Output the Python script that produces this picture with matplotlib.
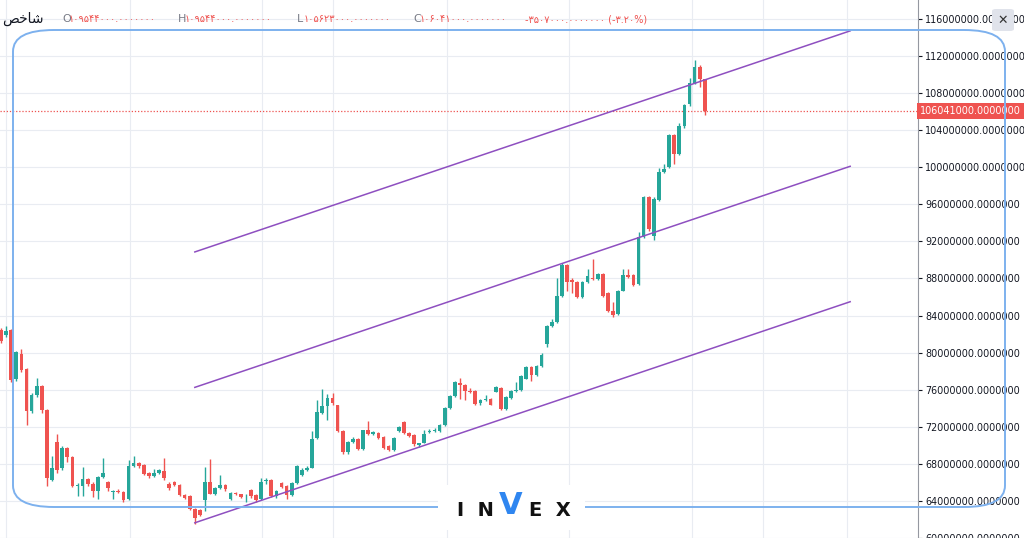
import matplotlib.pyplot as plt
from matplotlib.patches import FancyBboxPatch, Rectangle
from matplotlib.ticker import FuncFormatter

# OHLC per daily candle, in millions
opens = [82.4, 81.9, 82.4, 77.1, 79.9, 78.2, 73.7, 75.4, 76.4, 73.8,
         66.3, 70.4, 67.5, 69.7, 68.7, 65.6, 65.6, 66.4, 65.8, 65.1,
         66.6, 66.0, 65.0, 65.1, 65.0, 64.2, 67.8, 68.1, 67.9, 67.0,
         66.7, 67.0, 67.2, 65.8, 66.0, 65.7, 64.6, 64.5, 63.1, 63.0,
         64.1, 66.0, 64.8, 65.4, 65.7, 64.2, 64.9, 64.7, 64.5, 65.2,
         64.6, 64.2, 66.1, 66.3, 64.5, 65.9, 65.6, 64.6, 65.9, 66.8,
         67.3, 67.6, 70.8, 73.5, 74.2, 75.1, 74.3, 71.5, 69.3, 70.4,
         70.7, 69.6, 71.7, 71.2, 71.3, 70.9, 69.9, 69.5, 71.5, 72.5,
         71.3, 71.1, 70.0, 70.3, 71.4, 71.5, 71.5, 72.2, 74.0, 75.3,
         76.7, 76.5, 75.9, 75.9, 74.6, 74.9, 75.0, 75.8, 76.2, 73.9,
         75.1, 75.9, 76.0, 77.2, 78.5, 77.6, 78.6, 80.9, 82.9, 83.3,
         86.1, 89.5, 87.8, 87.6, 86.0, 87.6, 88.0, 87.9, 88.5, 86.4,
         84.5, 84.2, 86.7, 88.4, 88.4, 87.4, 92.5, 96.8, 92.6, 96.5,
         99.5, 100.0, 103.5, 101.4, 104.4, 106.8, 109.1, 110.8, 109.544]
closes = [81.2, 82.3, 77.0, 80.1, 78.1, 73.7, 75.4, 76.4, 73.8, 66.5,
          67.5, 67.3, 69.7, 68.7, 65.6, 65.7, 66.4, 65.8, 65.1, 66.6,
          67.0, 65.4, 65.1, 65.0, 64.1, 67.8, 68.1, 67.8, 66.9, 66.7,
          67.0, 67.3, 66.5, 65.4, 65.7, 64.6, 64.3, 63.1, 62.2, 62.5,
          66.0, 64.8, 65.4, 65.7, 65.3, 64.9, 64.7, 64.4, 64.55, 64.5,
          64.1, 66.0, 66.3, 64.5, 65.1, 65.5, 64.6, 65.9, 67.8, 67.3,
          67.6, 70.7, 73.6, 74.2, 75.1, 74.6, 71.5, 69.3, 70.4, 70.7,
          69.6, 71.6, 71.2, 71.4, 70.8, 69.7, 69.5, 70.8, 72.0, 71.3,
          71.0, 70.1, 70.2, 71.2, 71.5, 71.6, 72.2, 74.0, 75.3, 76.8,
          76.5, 75.9, 75.8, 74.5, 74.9, 75.0, 74.4, 76.3, 73.9, 75.2,
          75.9, 76.0, 77.5, 78.5, 77.6, 78.6, 79.7, 82.9, 83.3, 86.1,
          89.5, 87.6, 87.6, 86.0, 87.6, 88.3, 87.9, 88.5, 86.1, 84.5,
          84.1, 86.7, 88.4, 88.2, 87.3, 92.5, 96.8, 93.3, 96.6, 99.5,
          99.8, 103.5, 101.4, 104.5, 106.7, 109.1, 110.8, 109.5, 106.041]
highs = [82.7, 82.9, 82.6, 80.2, 80.4, 78.3, 75.6, 77.3, 76.5, 73.9,
         68.9, 71.2, 69.9, 69.8, 68.8, 65.9, 67.7, 66.5, 66.0, 66.7,
         68.6, 66.1, 65.2, 65.3, 65.1, 68.4, 68.9, 68.2, 68.0, 67.1,
         67.4, 67.4, 68.6, 66.0, 66.1, 65.8, 64.7, 64.6, 63.2, 63.1,
         67.7, 68.5, 65.5, 66.8, 65.8, 65.0, 65.0, 64.8, 64.7, 65.3,
         64.7, 66.5, 66.5, 66.4, 65.2, 66.0, 65.7, 66.0, 67.9, 67.6,
         67.8, 71.5, 74.9, 76.1, 75.5, 75.6, 74.4, 71.6, 70.5, 70.9,
         70.8, 71.7, 72.6, 71.5, 71.4, 71.0, 70.0, 70.9, 72.1, 72.6,
         71.4, 71.2, 70.3, 71.6, 71.8, 71.9, 72.3, 74.1, 75.4, 76.9,
         77.3, 76.6, 76.2, 76.0, 75.0, 75.4, 75.1, 76.4, 76.3, 75.3,
         76.0, 76.8, 77.6, 78.6, 78.6, 78.7, 80.0, 83.0, 83.6, 88.0,
         89.7, 89.6, 88.0, 87.7, 87.7, 89.0, 90.1, 88.6, 88.6, 86.5,
         85.5, 86.8, 89.0, 89.0, 88.5, 93.0, 96.9, 96.9, 96.8, 99.9,
         100.3, 103.6, 103.6, 104.8, 106.8, 109.6, 111.6, 111.0, 109.544]
lows = [81.0, 81.7, 76.8, 76.9, 77.9, 72.2, 73.5, 75.2, 73.5, 65.6,
        66.1, 67.0, 67.3, 68.2, 65.5, 64.5, 64.5, 65.6, 64.4, 64.2,
        66.5, 65.1, 64.2, 64.9, 63.9, 64.1, 67.7, 67.6, 66.8, 66.5,
        66.6, 66.9, 66.3, 65.2, 65.6, 64.5, 64.2, 63.0, 61.5, 62.4,
        62.9, 64.7, 64.6, 65.3, 65.1, 64.1, 64.6, 64.3, 63.9, 64.3,
        63.9, 64.1, 65.8, 64.4, 64.3, 65.4, 64.2, 64.5, 65.8, 66.7,
        67.2, 67.5, 70.7, 73.4, 72.7, 74.3, 71.4, 69.1, 69.1, 70.3,
        69.5, 69.5, 71.1, 71.1, 70.7, 69.6, 69.4, 69.4, 71.4, 71.2,
        70.9, 69.9, 69.8, 70.2, 71.3, 71.4, 71.4, 72.1, 73.9, 75.2,
        75.0, 74.9, 75.6, 74.4, 74.3, 74.8, 74.3, 75.7, 73.8, 73.8,
        75.0, 75.8, 75.9, 77.1, 76.9, 77.5, 78.5, 80.6, 82.8, 83.2,
        86.0, 86.6, 86.4, 85.9, 85.9, 87.5, 87.8, 87.8, 86.0, 84.4,
        83.8, 84.1, 86.6, 88.1, 87.2, 87.3, 92.4, 93.1, 92.2, 96.4,
        99.4, 99.9, 100.3, 101.3, 104.2, 106.6, 109.0, 108.7, 105.623]

# regression channel: (start index, end index) and prices at both ends
channel_x = [38.0, 166.5]
channel_upper = [90.86, 114.71]
channel_middle = [76.25, 100.10]
channel_lower = [61.64, 85.49]

last_price = 106.041
price_ticks = list(range(60, 120, 4))
month_lines = [1.0, 25.3, 51.2, 65.1, 87.5, 111.4, 135.5, 149.4, 165.9]

GREEN = "#26a69a"
RED = "#ef5350"
PURPLE = "#8e4fc0"
FRAME = "#7db1ee"

fig = plt.figure(figsize=(10.24, 5.38), dpi=100)
ax = fig.add_axes([0, 0, 918 / 1024, 1])

for i, (o, h, l, c) in enumerate(zip(opens, highs, lows, closes)):
    col = GREEN if c >= o else RED
    ax.vlines(i, l, h, color=col, linewidth=1, zorder=3)
    ax.add_patch(Rectangle((i - 0.36, min(o, c)), 0.72, max(abs(c - o), 0.08),
                           color=col, zorder=4, linewidth=0))

for ys in (channel_upper, channel_middle, channel_lower):
    ax.plot(channel_x, ys, color=PURPLE, linewidth=1.1, zorder=5)

ax.axhline(last_price, color=RED, linestyle=(0, (1, 1.5)), linewidth=0.9, zorder=2)

ax.set_xlim(-0.2, 179.8)
ax.set_ylim(60.24, 118.04)
ax.set_yticks(price_ticks)
ax.set_xticks(month_lines)
ax.set_xticklabels([])
ax.tick_params(axis="x", length=0)
ax.yaxis.tick_right()
ax.yaxis.set_major_formatter(FuncFormatter(lambda v, _: f"{v * 1e6:.7f}"))
ax.tick_params(axis="y", labelsize=6.9, colors="#131722", length=3, pad=2)
ax.grid(True, color="#e9ecf2", linewidth=0.8)
for side in ("left", "top", "bottom"):
    ax.spines[side].set_visible(False)
ax.spines["right"].set_color("#9598a1")

ax.annotate(f"{last_price * 1e6:.7f}", xy=(1.0, last_price),
            xycoords=("axes fraction", "data"), xytext=(1.5, 0),
            textcoords="offset points", va="center", ha="left",
            fontsize=6.9, color="white",
            bbox=dict(boxstyle="square,pad=0.3", fc=RED, ec="none"))

# overlay frame and logo
fig.patches.append(FancyBboxPatch((13 / 1024, 1 - 507 / 538), 992 / 1024, 477 / 538,
                                  boxstyle="round,pad=0,rounding_size=0.04",
                                  transform=fig.transFigure, fill=False,
                                  ec=FRAME, linewidth=1.4, zorder=10))
fig.patches.append(Rectangle((438 / 1024, 1 - 530 / 538), 147 / 1024, 45 / 538,
                             transform=fig.transFigure, fc="white", ec="none", zorder=11))
fig.text(475 / 1024, 1 - 511 / 538, "I  N", fontsize=14, fontweight="bold",
         ha="center", va="center", color="#111111", zorder=12)
fig.text(511 / 1024, 1 - 505 / 538, "V", fontsize=22, fontweight="bold",
         ha="center", va="center", color="#2f86f0", zorder=12)
fig.text(550 / 1024, 1 - 511 / 538, "E  X", fontsize=14, fontweight="bold",
         ha="center", va="center", color="#111111", zorder=12)

# header
fig.text(2 / 1024, 1 - 19 / 538, "\uFEBA\uFEA7\uFE8E\uFEB7", fontsize=10,
         color="#131722", va="center")
header = [(62, "O", "۱۰۹۵۴۴۰۰۰.۰۰۰۰۰۰۰"), (178, "H", "۱۰۹۵۴۴۰۰۰.۰۰۰۰۰۰۰"),
          (297, "L", "۱۰۵۶۲۳۰۰۰.۰۰۰۰۰۰۰"), (413, "C", "۱۰۶۰۴۱۰۰۰.۰۰۰۰۰۰۰")]
for px, key, val in header:
    fig.text(px / 1024, 1 - 19 / 538, key, fontsize=8, color="#787b86", va="center")
    fig.text((px + 7) / 1024, 1 - 19 / 538, val, fontsize=7, color=RED, va="center")
fig.text(525 / 1024, 1 - 19 / 538, "-۳۵۰۷۰۰۰.۰۰۰۰۰۰۰ (-۳.۲۰%)", fontsize=7,
         color=RED, va="center")

fig.patches.append(FancyBboxPatch((992 / 1024, 1 - 31 / 538), 22 / 1024, 22 / 538,
                                  boxstyle="round,pad=0,rounding_size=0.004",
                                  transform=fig.transFigure, fc="#e0e3eb", ec="none", zorder=12))
fig.text(1003 / 1024, 1 - 20 / 538, "✕", fontsize=9, fontweight="bold",
         ha="center", va="center", color="#333333", zorder=13)

fig.savefig("out.png", dpi=100)
